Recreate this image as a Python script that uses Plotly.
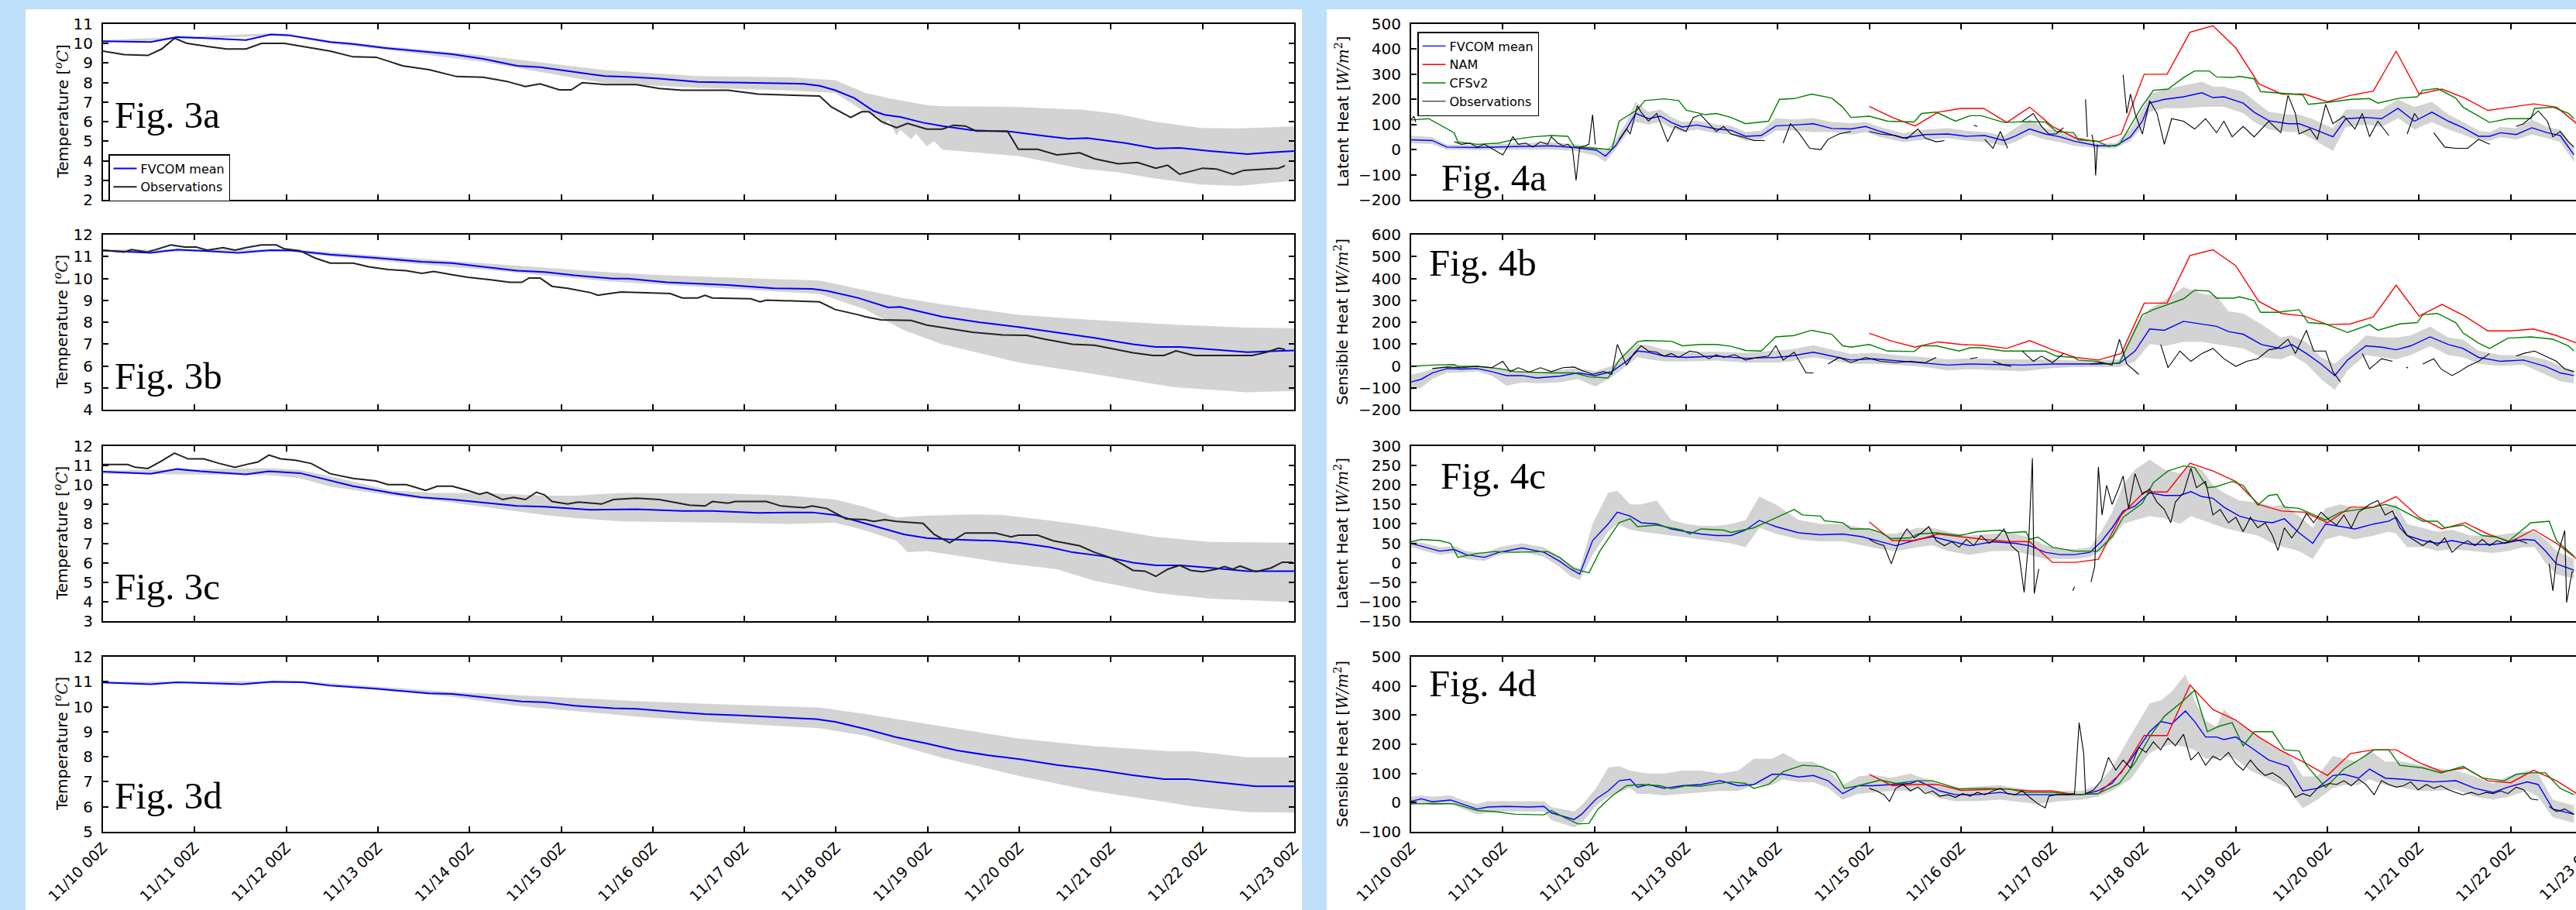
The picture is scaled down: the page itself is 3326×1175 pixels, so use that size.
import plotly.graph_objects as go

# ---------------------------------------------------------------- data
DAY_TICKS = list(range(14))
DAY_LABELS = ["11/10 00Z", "11/11 00Z", "11/12 00Z", "11/13 00Z", "11/14 00Z",
              "11/15 00Z", "11/16 00Z", "11/17 00Z", "11/18 00Z", "11/19 00Z",
              "11/20 00Z", "11/21 00Z", "11/22 00Z", "11/23 00Z"]

# ---- Fig. 3a (temperature)
T3A_MEAN = [0.00,0.52,0.81,1.56,1.83,2.02,2.48,2.73,3.06,3.56,3.81,4.15,4.52,4.77,5.07,5.48,5.73,6.07,6.49,6.90,
            7.32,7.65,7.82,7.99,8.20,8.41,8.53,8.70,8.95,9.16,9.49,9.91,10.24,10.54,10.74,11.16,11.49,11.74,12.08,12.49,12.75,13.00]
V3A_MEAN = [10.12,10.08,10.34,10.18,10.46,10.43,10.08,9.98,9.78,9.55,9.45,9.22,8.86,8.79,8.60,8.33,8.29,8.20,8.04,8.00,
            7.96,7.94,7.84,7.61,7.21,6.55,6.35,6.24,5.95,5.78,5.56,5.49,5.29,5.12,5.16,4.90,4.63,4.66,4.50,4.34,4.43,4.50]
T3A_BAND = [0.00,1.83,2.02,2.48,3.06,4.15,5.48,6.49,7.49,7.99,8.32,8.45,8.53,8.57,8.66,8.70,8.82,8.87,8.99,9.07,
            9.16,9.57,9.99,10.70,11.07,11.47,11.98,12.40,13.00]
UP3A = [10.18,10.52,10.49,10.15,9.88,9.39,8.64,8.33,8.27,8.13,7.47,7.35,7.25,7.20,7.12,7.08,7.00,6.95,6.85,6.82,
        6.79,6.78,6.75,6.61,6.40,6.00,5.68,5.66,5.76]
LO3A = [10.05,10.40,10.37,10.00,9.70,9.06,7.97,7.74,7.60,7.47,6.50,6.30,5.80,6.10,5.30,5.60,5.10,5.40,4.75,5.00,
        4.57,4.40,4.24,3.58,3.42,3.10,2.78,2.71,2.98]
OBS3A_T = [0.00,0.23,0.49,0.64,0.78,0.91,1.14,1.35,1.56,1.73,1.98,2.23,2.48,2.73,2.98,3.27,3.56,3.86,4.15,4.40,
           4.61,4.77,4.98,5.11,5.23,5.48,5.82,6.07,6.32,6.82,7.15,7.82,7.95,8.16,8.28,8.36,8.49,8.66,8.78,8.99,
           9.16,9.28,9.41,9.53,9.87,9.99,10.20,10.41,10.66,10.82,11.08,11.29,11.49,11.62,11.75,12.00,12.15,12.33,12.45,12.83,12.90]
OBS3A_V = [9.61,9.43,9.39,9.72,10.27,10.02,9.85,9.72,9.72,10.01,10.01,9.82,9.61,9.32,9.30,8.86,8.66,8.31,8.27,8.07,
           7.80,7.94,7.63,7.63,8.00,7.90,7.90,7.70,7.61,7.61,7.41,7.31,6.75,6.22,6.51,6.51,6.02,5.69,5.91,5.62,
           5.62,5.82,5.78,5.52,5.52,4.59,4.59,4.30,4.41,4.10,3.84,3.91,3.62,3.77,3.31,3.62,3.58,3.31,3.51,3.62,3.75]

# ---- Fig. 3b
T3B_MEAN = [0.00,0.52,0.81,1.48,1.83,2.06,2.48,2.98,3.48,3.81,4.15,4.52,4.82,5.15,5.57,5.73,6.15,6.49,6.82,7.32,
            7.74,7.90,8.24,8.57,8.70,9.16,9.57,9.99,10.41,10.82,11.24,11.49,11.75,12.09,12.49,12.75,13.00]
V3B_MEAN = [11.27,11.17,11.32,11.17,11.29,11.27,11.09,10.94,10.76,10.70,10.53,10.35,10.29,10.14,9.99,9.99,9.82,9.76,9.70,9.55,
            9.52,9.43,9.11,8.67,8.70,8.25,7.99,7.78,7.52,7.28,6.99,6.87,6.87,6.75,6.63,6.67,6.71]
T3B_BAND = [0.00,2.06,2.48,4.15,5.48,5.98,7.82,8.32,8.74,9.16,9.99,10.82,11.66,12.49,13.00]
UP3B = [11.32,11.33,11.20,10.68,10.29,10.17,9.90,9.46,9.10,8.81,8.34,8.10,7.89,7.75,7.73]
LO3B = [11.22,11.22,11.00,10.41,9.88,9.76,9.29,8.58,7.63,6.99,6.16,5.63,5.04,4.80,4.86]
OBS3B_T = [0.00,0.23,0.31,0.48,0.60,0.74,0.89,1.02,1.14,1.31,1.44,1.56,1.73,1.89,1.98,2.15,2.31,2.48,2.73,2.90,
           3.11,3.31,3.48,3.61,3.81,3.98,4.23,4.44,4.57,4.65,4.77,4.90,5.07,5.32,5.40,5.65,6.19,6.32,6.49,6.57,
           6.65,7.07,7.17,7.24,7.82,7.99,8.24,8.32,8.49,8.82,8.99,9.16,9.49,9.82,10.08,10.28,10.58,10.82,10.99,11.24,
           11.46,11.58,11.71,11.83,11.91,12.54,12.70,12.83,12.90]
OBS3B_V = [11.29,11.20,11.32,11.20,11.35,11.53,11.43,11.43,11.29,11.41,11.29,11.41,11.53,11.53,11.35,11.27,10.94,10.70,10.70,10.53,
           10.41,10.35,10.23,10.32,10.17,10.05,9.94,9.82,9.82,10.02,10.02,9.64,9.55,9.35,9.23,9.38,9.31,9.11,9.11,9.23,
           9.11,9.07,8.93,9.01,8.93,8.58,8.34,8.25,8.11,8.08,7.87,7.75,7.54,7.42,7.40,7.22,6.99,6.95,6.81,6.60,
           6.48,6.48,6.69,6.57,6.48,6.48,6.63,6.81,6.75]

# ---- Fig. 3c
T3C_MEAN = [0.00,0.52,0.81,1.06,1.56,1.81,2.15,2.40,2.73,3.15,3.48,3.81,4.15,4.52,4.82,5.32,5.82,6.32,6.65,7.15,
            7.74,7.99,8.24,8.49,8.74,8.99,9.24,9.74,9.99,10.33,10.58,10.91,11.24,11.49,11.75,12.09,12.49,13.00]
V3C_MEAN = [10.69,10.58,10.82,10.71,10.55,10.71,10.61,10.32,9.94,9.59,9.36,9.25,9.10,8.92,8.88,8.72,8.75,8.66,8.66,8.57,
            8.59,8.46,8.13,7.80,7.46,7.27,7.20,7.13,7.03,6.80,6.54,6.34,6.01,5.87,5.87,5.74,5.57,5.57]
T3C_BAND = [0.00,1.81,2.15,2.48,3.15,3.65,4.15,4.82,5.15,5.65,6.82,7.49,7.99,8.32,8.66,8.78,8.99,9.49,9.82,10.41,
            10.82,11.49,12.09,13.00]
UP3C = [10.75,10.87,10.78,10.45,9.72,9.59,9.59,9.45,9.45,9.59,9.56,9.45,9.25,8.86,8.33,8.38,8.43,8.49,8.46,8.13,
        7.86,7.33,7.07,7.03]
LO3C = [10.58,10.51,10.35,9.92,9.45,9.19,8.88,8.46,8.30,8.13,8.06,8.00,8.06,7.66,7.13,6.54,6.60,6.25,6.00,5.67,
        5.08,4.45,4.15,3.98]
OBS3C_T = [0.00,0.27,0.35,0.49,0.64,0.78,0.93,1.10,1.27,1.44,1.56,1.69,1.81,1.94,2.10,2.27,2.48,2.73,2.98,3.11,
           3.31,3.52,3.65,3.81,3.98,4.11,4.19,4.36,4.48,4.61,4.73,4.82,4.90,5.07,5.19,5.44,5.57,5.82,6.07,6.40,
           6.57,6.65,6.82,6.90,7.24,7.40,7.65,7.74,7.90,8.11,8.32,8.41,8.53,8.66,8.95,9.07,9.24,9.41,9.74,9.91,
           9.99,10.20,10.37,10.49,10.66,10.82,10.99,11.12,11.24,11.37,11.49,11.62,11.75,11.87,12.00,12.15,12.24,12.33,12.41,12.58,
           12.75,12.87,12.98]
OBS3C_V = [11.05,11.05,10.91,10.85,11.24,11.64,11.34,11.34,11.11,10.91,11.05,11.18,11.54,11.34,11.27,11.11,10.58,10.34,10.21,10.02,
           10.02,9.72,9.94,9.94,9.72,9.52,9.63,9.25,9.36,9.25,9.63,9.49,9.15,9.02,9.12,9.02,9.25,9.32,9.25,8.96,
           8.92,9.15,9.06,9.15,9.15,8.92,8.83,8.92,8.79,8.26,8.22,8.13,8.22,8.13,8.03,7.46,7.03,7.53,7.53,7.33,
           7.42,7.42,7.13,7.03,6.87,6.54,6.27,5.94,5.61,5.57,5.30,5.67,5.87,5.61,5.54,5.67,5.81,5.67,5.83,5.54,
           5.74,6.03,6.03]

# ---- Fig. 3d
T3D_MEAN = [0.00,0.52,0.81,1.52,1.85,2.19,2.48,2.98,3.56,3.81,4.15,4.57,4.82,5.15,5.57,5.82,6.24,6.57,6.90,7.32,
            7.78,7.99,8.32,8.66,8.99,9.32,9.66,9.99,10.41,10.82,11.24,11.58,11.83,12.15,12.58,13.00]
V3D_MEAN = [10.97,10.90,10.98,10.90,11.00,10.98,10.85,10.72,10.54,10.51,10.38,10.21,10.18,10.04,9.94,9.92,9.79,9.71,9.66,9.58,
            9.51,9.40,9.11,8.78,8.53,8.25,8.06,7.91,7.67,7.49,7.26,7.11,7.11,6.98,6.82,6.82]
T3D_BAND = [0.00,2.15,3.81,4.57,5.82,6.82,7.82,8.32,9.16,9.99,10.82,11.66,11.91,12.49,13.00]
UP3D = [11.00,11.03,10.59,10.45,10.23,10.09,9.97,9.71,9.22,8.73,8.42,8.22,8.22,7.98,7.98]
LO3D = [10.93,10.95,10.40,10.02,9.61,9.35,9.14,8.84,7.96,7.24,6.62,6.15,6.00,5.79,5.77]

# ---- Fig. 4a (latent heat)
T4A = [0.00,0.23,0.39,0.72,1.13,1.53,1.78,2.02,2.12,2.23,2.35,2.45,2.59,2.72,2.84,2.96,3.12,3.33,3.49,3.65,
       3.82,3.98,4.18,4.39,4.59,4.80,4.96,5.12,5.37,5.61,5.86,6.06,6.26,6.47,6.59,6.75,6.92,7.08,7.24,7.49,
       7.69,7.85,7.98,8.06,8.22,8.43,8.63,8.75,8.87,9.08,9.20,9.36,9.57,9.69,9.85,10.06,10.20,10.42,10.59,10.77,
       10.95,11.14,11.32,11.48,11.65,11.77,11.89,12.06,12.23,12.40,12.54,12.69]
MEAN4A = [39,36,10,8,12,15,8,-2,-26,15,82,144,123,133,108,90,98,82,77,53,
          56,94,98,103,84,82,92,72,46,60,62,53,56,36,53,82,62,51,33,15,
          15,51,113,185,200,210,226,207,210,185,149,115,103,103,82,51,123,128,123,164,
          113,149,113,87,53,53,67,60,87,67,56,-21]
UP4A = [55,50,20,18,25,30,22,10,-5,40,110,190,150,160,130,110,115,100,95,70,
        75,125,120,125,110,105,110,90,65,80,85,75,70,55,85,120,85,70,50,25,
        25,80,160,220,240,255,270,250,250,230,195,150,140,140,120,85,160,160,160,200,
        170,190,140,110,75,70,90,85,120,90,80,10]
LO4A = [25,22,0,-2,0,0,-5,-25,-50,0,60,110,100,110,85,70,80,65,60,35,
        40,75,75,70,70,60,70,50,30,40,45,35,30,15,30,60,40,30,15,5,
        5,35,90,150,165,165,170,170,170,145,110,80,70,70,40,-5,90,100,90,125,
        80,110,80,60,35,35,50,40,60,45,30,-50]
T_NAM = [5.00,5.25,5.50,5.75,6.00,6.25,6.50,6.75,7.00,7.25,7.50,7.75,8.00,8.25,8.50,8.75,
         9.00,9.25,9.50,9.75,10.00,10.25,10.50,10.75,11.00,11.25,11.50,11.75,12.00,12.25,12.50,12.75]
NAM4A = [172,128,94,149,164,164,108,169,92,46,31,62,300,300,467,493,
         405,262,221,221,190,216,233,392,221,241,205,156,169,182,169,95]
TC4A = [0.00,0.19,0.47,0.51,0.72,0.96,1.13,1.33,1.53,1.71,1.78,1.94,2.19,2.27,2.47,2.55,2.76,2.92,3.00,3.21,
        3.33,3.49,3.65,3.90,4.02,4.18,4.37,4.59,4.71,4.80,5.00,5.20,5.49,5.57,5.73,5.94,6.10,6.22,6.47,6.67,
        6.92,7.04,7.23,7.28,7.49,7.61,7.73,7.98,8.10,8.26,8.43,8.55,8.71,8.79,8.97,9.04,9.20,9.27,9.45,9.73,
        9.79,9.98,10.26,10.46,10.55,10.79,10.98,11.04,11.20,11.40,11.48,11.65,11.77,11.97,12.22,12.26,12.46,12.63,12.69]
CFS4A = [118,123,67,31,21,26,41,51,56,53,12,8,0,113,159,195,202,195,157,139,
         144,128,103,113,200,203,221,205,169,128,133,113,110,144,149,113,135,135,108,111,
         110,72,67,39,34,12,21,174,236,241,287,313,313,289,287,292,282,231,226,218,
         180,187,200,203,185,205,210,236,243,205,169,133,108,123,123,164,169,144,123]
OBS4A_T = [0.00,0.03,0.05,None,
           0.47,0.55,0.64,0.72,0.80,0.88,1.00,1.06,1.11,1.17,1.25,1.33,1.41,1.49,1.53,1.60,1.66,1.71,1.76,1.80,1.84,1.90,1.94,1.98,2.01,None,
           2.27,2.35,2.39,2.47,2.51,2.59,2.68,2.80,2.88,3.00,3.08,3.16,3.25,3.33,3.41,3.49,3.61,3.74,3.86,None,
           4.06,4.14,4.23,4.35,4.47,4.55,4.67,4.80,None,
           5.00,5.12,5.29,5.41,5.53,5.61,5.73,5.82,None,
           6.14,6.18,None,
           6.26,6.35,6.43,6.51,None,
           6.67,6.79,6.88,6.96,7.04,7.12,None,
           7.36,7.38,None,
           7.43,7.46,7.47,7.49,None,
           7.77,7.81,7.85,7.90,7.98,8.06,8.14,8.22,8.30,8.43,8.55,8.67,8.79,8.87,8.96,9.08,9.20,9.36,9.49,9.57,
           9.65,9.69,9.81,9.89,9.98,10.06,10.18,10.30,10.38,10.46,10.55,10.67,None,
           10.87,10.95,10.99,None,
           11.16,11.28,11.40,11.53,11.65,11.77,None,
           12.06,12.14,12.22,12.30,12.40,12.46,12.54,12.63,12.69]
OBS4A_V = [120,132,110,None,
           31,21,26,10,21,5,-21,15,51,21,26,10,31,21,51,26,15,21,5,-123,10,15,21,139,21,None,
           40,82,62,174,149,113,144,31,92,72,128,139,103,72,92,62,51,36,36,None,
           26,103,67,5,0,41,62,72,None,
           72,62,56,43,82,46,31,36,None,
           97,92,None,
           41,5,72,5,None,
           113,144,92,62,62,87,None,
           200,50,None,
           60,0,-103,20,None,
           298,144,221,144,62,195,144,21,123,113,82,123,67,113,51,92,51,113,67,216,
           144,62,82,41,180,103,133,82,144,51,113,56,None,
           62,144,123,None,
           67,10,5,5,41,21,None,
           92,103,128,154,113,51,72,31,10]

# ---- Fig. 4b (sensible heat)
T4B = [0.00,0.11,0.23,0.39,0.55,0.72,0.88,1.04,1.21,1.37,1.62,1.82,2.01,2.19,2.35,2.47,2.59,2.76,3.00,3.33,
       3.65,3.98,4.14,4.39,4.59,4.80,5.04,5.29,5.61,5.86,6.10,6.43,6.67,7.00,7.24,7.49,7.73,7.90,8.06,8.22,
       8.43,8.63,8.79,8.92,9.08,9.28,9.49,9.61,9.77,9.93,10.08,10.22,10.42,10.59,10.75,10.91,11.12,11.32,11.48,11.65,
       11.89,12.14,12.38,12.54,12.69]
MEAN4B = [-73,-61,-32,-12,-14,-12,-26,-44,-44,-55,-47,-32,-44,-26,21,68,63,45,39,45,
          35,39,45,63,45,27,33,24,15,4,9,7,4,9,9,9,12,68,169,163,
          204,192,181,157,145,98,80,98,57,9,-44,27,92,86,74,92,133,98,80,39,
          21,27,-2,-32,-44]
UP4B = [-40,-30,-15,0,0,0,-5,-15,-25,-30,-20,-10,-25,0,60,100,95,75,65,65,
        60,70,75,95,75,55,60,50,40,30,35,30,30,30,25,25,30,180,260,300,
        360,330,320,250,240,190,130,140,110,40,10,60,140,130,130,140,180,130,120,70,
        50,50,30,0,-20]
LO4B = [-110,-100,-60,-30,-30,-25,-45,-90,-75,-80,-75,-60,-95,-50,0,40,30,20,20,25,
        15,15,20,40,25,10,10,5,-5,-20,-15,-20,-25,-10,-5,-5,-5,20,100,90,
        110,110,100,90,80,40,30,50,10,-60,-110,-20,50,40,30,50,90,50,40,10,
        0,5,-40,-70,-80]
NAM4B = [149,113,86,110,98,94,80,116,74,39,27,57,287,287,505,531,
         458,295,240,228,189,192,224,369,228,281,228,160,160,169,139,100]
TC4B = [0.00,0.23,0.47,0.51,0.72,0.96,1.13,1.53,1.78,1.94,2.15,2.27,2.47,2.55,2.84,2.96,3.16,3.33,3.49,3.65,
        3.82,3.98,4.18,4.37,4.59,4.71,4.80,5.00,5.20,5.49,5.57,5.73,5.98,6.10,6.22,6.47,6.92,7.04,7.23,7.28,
        7.49,7.61,7.73,7.98,8.10,8.26,8.43,8.55,8.71,8.79,8.97,9.04,9.20,9.27,9.45,9.69,9.79,9.98,10.22,10.46,
        10.55,10.79,10.98,11.04,11.20,11.40,11.48,11.65,11.77,11.97,12.22,12.46,12.63,12.69]
CFS4B = [-2,4,6,-2,-2,-12,-26,-32,-32,-50,-55,27,110,116,113,92,98,98,90,71,
         68,133,139,163,145,92,86,98,68,66,92,92,68,83,83,68,68,45,39,27,
         21,9,15,234,257,281,307,346,342,310,310,316,299,245,245,257,198,192,153,189,
         163,192,198,234,240,198,151,104,80,127,133,122,92,68]
OBS4B_T = [0.23,0.39,0.55,0.72,0.88,1.00,1.08,1.17,1.29,1.41,1.53,1.66,1.78,1.86,1.98,2.10,2.19,2.25,2.35,2.43,
           2.51,2.59,2.68,2.76,2.84,2.92,3.04,3.12,3.25,3.33,3.41,3.53,3.65,3.78,3.90,3.98,4.06,4.18,4.31,4.39,None,
           4.55,4.67,4.80,4.96,5.12,5.29,5.45,5.61,5.73,None,
           6.10,6.18,None,
           6.35,6.47,6.55,None,
           6.67,6.79,6.88,7.00,7.12,None,
           7.41,7.53,7.65,7.73,7.81,7.94,None,
           8.18,8.26,8.39,8.51,8.63,8.75,8.87,9.00,9.12,9.24,9.36,9.45,9.57,9.65,9.77,9.85,9.98,10.06,10.14,None,
           10.38,10.46,10.59,10.71,None,
           10.86,10.88,None,
           11.04,11.16,11.24,11.36,11.44,11.53,11.65,11.77,None,
           12.06,12.14,12.26,12.38,12.50,12.59,12.69]
OBS4B_V = [-12,-5,-8,-2,-8,21,-26,-8,-28,-8,-26,-8,-5,-20,-38,-26,-38,98,4,57,
           92,68,63,45,57,39,68,63,33,51,39,51,27,39,45,92,27,63,-32,-32,None,
           9,39,15,39,21,15,21,15,39,None,
           33,39,None,
           21,4,-2,None,
           68,21,45,15,57,None,
           9,15,4,122,9,-38,None,
           98,-8,68,21,57,80,33,-2,21,33,74,80,122,57,163,68,68,-26,-73,None,
           57,-14,33,21,None,
           -5,-10,None,
           9,33,-14,-44,-26,-2,21,57,None,
           45,57,68,45,21,-14,-26]

# ---- Fig. 4c (latent heat)
T4C = [0.00,0.15,0.31,0.47,0.60,0.80,0.96,1.21,1.45,1.62,1.74,1.84,1.98,2.15,2.25,2.39,2.51,2.68,2.84,3.00,
       3.16,3.33,3.49,3.65,3.80,3.98,4.23,4.47,4.71,4.92,5.12,5.29,5.53,5.69,5.86,6.10,6.35,6.59,6.75,6.92,
       7.08,7.24,7.41,7.53,7.65,7.77,7.90,8.06,8.22,8.39,8.51,8.63,8.75,8.87,9.04,9.24,9.40,9.53,9.69,9.84,
       9.98,10.14,10.30,10.51,10.67,10.75,10.87,11.04,11.20,11.36,11.57,11.81,11.97,12.14,12.26,12.38,12.50,12.69]
MEAN4C = [50,40,30,34,21,14,27,38,27,4,-16,-29,57,100,130,120,103,100,87,80,
          74,70,70,84,109,93,77,72,74,67,54,44,60,67,57,44,54,50,44,27,
          21,21,27,54,90,133,146,180,173,173,183,170,166,143,120,107,103,113,77,50,
          100,93,87,100,107,117,70,57,50,57,47,47,52,60,58,30,-3,-19]
UP4C = [55,50,40,42,30,25,40,50,40,15,-5,-15,100,180,185,150,150,160,110,100,
        95,95,100,110,170,150,110,100,100,90,75,75,90,90,80,70,75,75,65,45,
        35,35,40,80,130,200,240,265,240,230,250,240,200,180,160,155,145,150,120,90,
        140,150,140,140,145,150,100,90,80,85,70,70,75,80,80,60,30,10]
LO4C = [40,30,20,25,10,5,20,28,15,-10,-35,-45,20,80,100,85,80,75,70,65,
        60,55,50,40,90,75,60,55,55,45,35,30,40,45,30,20,30,30,20,10,
        10,10,15,30,60,100,110,120,115,100,120,110,100,90,80,70,50,40,30,10,
        60,70,60,70,80,75,40,40,30,35,30,25,30,40,40,0,-30,-40]
NAM4C = [105,57,57,74,67,60,55,54,1,1,9,123,182,182,256,236,
         209,150,133,130,103,143,143,170,117,87,103,74,54,85,50,5]
TC4C = [0.00,0.11,0.31,0.43,0.51,0.72,0.92,1.13,1.49,1.62,1.78,1.94,2.06,2.27,2.39,2.47,2.68,2.96,3.04,3.16,
        3.41,3.49,3.74,3.90,4.18,4.27,4.47,4.51,4.71,4.80,5.00,5.12,5.24,5.45,5.53,5.73,5.98,6.18,6.43,6.51,
        6.71,6.75,6.84,7.00,7.24,7.49,7.65,7.77,7.98,8.10,8.26,8.43,8.55,8.69,8.79,8.96,9.08,9.24,9.36,9.45,
        9.53,9.69,9.98,10.14,10.34,10.51,10.63,10.75,11.04,11.20,11.28,11.48,11.69,11.85,11.97,12.22,12.42,12.50,12.69]
CFS4C = [54,60,57,50,14,24,29,27,29,14,-16,-26,30,103,113,93,97,84,74,87,
         84,78,90,107,137,123,120,108,103,87,87,78,62,64,74,77,70,80,84,77,
         80,60,66,40,30,30,67,117,153,206,236,249,245,193,196,209,199,148,173,176,
         143,140,110,130,137,143,150,143,107,107,90,97,70,66,54,103,107,57,17]
OBS4C_T = [5.00,5.08,5.16,5.24,5.33,5.41,5.49,5.57,5.65,5.73,5.82,5.90,5.98,6.06,6.14,6.22,6.31,6.39,6.47,6.55,
           6.63,6.69,6.74,6.78,6.80,6.85,None,
           7.22,7.24,None,
           7.42,7.46,7.50,7.54,7.59,7.65,7.72,7.77,7.83,7.90,7.98,8.06,8.14,8.22,8.29,8.34,8.43,8.51,8.57,8.67,
           8.75,8.83,8.92,9.00,9.08,9.16,9.24,9.32,9.40,9.46,9.53,9.61,9.69,9.77,9.85,9.93,10.02,10.10,10.18,10.26,
           10.34,10.46,10.55,10.63,10.71,10.79,10.87,10.95,11.04,11.12,11.20,11.28,11.36,11.44,11.53,11.61,11.69,11.77,11.85,11.93,
           12.06,12.18,None,
           12.42,12.46,12.50,12.59,12.61,12.67,12.69]
OBS4C_V = [60,50,44,-3,57,87,64,77,93,57,44,54,40,60,44,70,50,64,87,44,
           27,-76,57,269,-79,-16,None,
           -72,-62,None,
           -49,-9,246,123,199,150,190,223,140,229,176,190,156,137,103,156,180,243,193,209,
           123,137,103,117,80,117,90,103,70,32,90,64,90,127,103,130,110,97,123,90,
           130,150,160,123,133,90,70,57,44,57,44,64,27,44,57,44,60,44,57,50,
           60,50,None,
           -3,-72,11,83,-102,-23,-23]

# ---- Fig. 4d (sensible heat)
T4D = [0.00,0.11,0.23,0.43,0.55,0.72,0.84,1.04,1.29,1.45,1.53,1.78,1.86,2.02,2.15,2.27,2.39,2.47,2.59,2.76,
       2.96,3.16,3.37,3.57,3.74,3.94,4.06,4.23,4.39,4.55,4.71,4.88,5.04,5.24,5.45,5.53,5.65,5.77,5.94,6.18,
       6.43,6.59,6.84,7.08,7.32,7.49,7.65,7.85,8.06,8.18,8.30,8.45,8.55,8.67,8.79,8.87,9.00,9.16,9.36,9.57,
       9.73,9.89,10.06,10.18,10.34,10.46,10.63,10.83,10.99,11.16,11.40,11.61,11.81,11.97,12.18,12.30,12.46,12.69]
MEAN4D = [4,13,3,9,-4,-22,-15,-13,-15,-13,-35,-58,-40,13,40,75,80,53,62,49,
          58,62,75,58,62,97,97,88,93,75,31,58,58,62,66,75,58,40,27,27,
          35,27,27,27,27,40,66,146,243,278,270,314,278,225,225,216,225,190,146,124,
          40,49,93,97,84,115,84,80,75,71,75,49,35,53,71,62,-22,-40]
UP4D = [20,25,20,25,10,-5,5,5,5,5,-15,-30,-10,50,120,125,110,105,100,100,
        110,110,100,110,150,150,170,140,140,110,60,90,95,85,100,90,80,60,50,55,
        60,50,40,40,40,60,120,230,340,350,380,440,350,280,260,320,280,250,200,170,
        90,90,160,150,140,180,140,140,130,120,110,90,65,90,110,100,10,-10]
LO4D = [-10,0,-10,-5,-20,-40,-35,-30,-30,-30,-60,-85,-70,-10,20,35,50,30,30,25,
        30,35,40,40,60,60,80,70,70,50,10,30,35,40,40,50,30,15,5,5,
        10,5,-5,5,10,20,40,80,170,190,200,190,180,150,150,160,150,110,80,50,
        -20,10,50,60,60,80,60,50,40,40,45,20,10,20,40,20,-50,-70]
NAM4D = [97,58,62,62,42,44,47,40,40,27,31,102,230,230,403,319,
         283,225,177,137,93,168,181,181,137,106,119,75,68,111,75,25]
TC4D = [0.00,0.23,0.47,0.55,0.72,0.92,1.13,1.45,1.53,1.66,1.82,1.94,2.04,2.19,2.35,2.51,2.72,2.84,3.00,3.16,
        3.33,3.49,3.65,3.74,3.90,4.06,4.27,4.47,4.63,4.73,4.88,5.12,5.29,5.53,5.69,5.98,6.26,6.51,6.71,7.00,
        7.24,7.49,7.73,7.90,8.06,8.22,8.43,8.55,8.69,8.81,8.96,9.08,9.20,9.40,9.53,9.69,9.77,9.98,10.18,10.34,
        10.51,10.67,10.79,11.04,11.24,11.48,11.69,11.93,12.06,12.22,12.38,12.54,12.69]
CFS4D = [-4,-3,-4,-12,-27,-31,-40,-42,-27,-49,-73,-71,-22,22,58,62,58,47,58,56,
         65,71,66,49,62,106,128,124,102,49,58,77,66,75,75,47,49,47,35,35,
         27,30,66,137,225,296,350,385,243,261,274,194,243,243,181,177,128,52,115,146,
         181,181,128,119,102,124,84,75,97,102,102,49,27]
OBS4D_T = [5.00,5.08,5.16,5.22,5.29,5.37,5.45,5.53,5.61,5.69,5.77,5.86,5.94,6.02,6.10,6.18,6.26,6.35,6.43,6.51,
           6.59,6.67,6.75,6.84,6.92,6.96,7.04,7.16,7.24,7.29,7.34,7.36,7.45,7.53,7.61,7.69,7.77,7.85,7.94,8.02,
           8.10,8.18,8.26,8.34,8.43,8.51,8.59,8.67,8.75,8.83,8.92,9.00,9.08,9.16,9.24,9.32,9.40,9.49,9.57,9.65,
           9.73,9.81,9.89,10.02,10.10,10.18,10.26,10.34,10.42,10.51,10.59,10.67,10.75,10.83,10.91,10.99,11.08,11.16,11.24,11.32,
           11.40,11.48,11.57,11.65,11.73,11.81,11.89,11.97,12.06,12.14,12.22,12.30,None,
           12.42,12.50,12.59,12.69]
OBS4D_V = [49,40,27,4,49,62,40,53,31,40,22,27,18,31,22,35,27,40,49,31,
           27,40,18,-4,-18,22,27,27,31,274,168,31,44,75,155,111,146,119,190,172,
           208,181,221,195,234,146,172,128,159,146,172,133,111,146,115,93,102,84,58,18,
           31,22,49,66,62,75,58,80,62,27,75,62,53,58,71,44,62,49,58,44,
           35,27,35,27,35,31,40,31,53,44,13,9,None,
           -13,-31,-22,-40]

# ---------------------------------------------------------------- style / layout
W, H = 3326, 1175
BG = "#bfe0fa"
BLUE, RED, GREEN, BLACK, BAND = "#0000ff", "#ff0000", "#008000", "#000000", "#d3d3d3"
SANS = "DejaVu Sans"
SERIF = "Liberation Serif"
MATH = "DejaVu Serif"

LEFT = (133, 1671)
RIGHT = (1822, 3326)
ROWS = [(31, 258), (303, 529), (576, 802), (848, 1074)]
PX_PER_DAY = (LEFT[1] - LEFT[0]) / 13.0
RIGHT_END_DAY = (RIGHT[1] - RIGHT[0]) / PX_PER_DAY


def xdom(a, b):
    return [a / W, b / W]


def ydom(top, bot):
    return [1 - bot / H, 1 - top / H]


fig = go.Figure()


def axref(n):
    return ("x" if n == 1 else "x%d" % n), ("y" if n == 1 else "y%d" % n)


def add_band(n, t, up, lo):
    m = min(len(t), len(up), len(lo))
    t, up, lo = list(t[:m]), list(up[:m]), list(lo[:m])
    xa, ya = axref(n)
    fig.add_trace(go.Scatter(x=t + t[::-1], y=up + lo[::-1], fill="toself", fillcolor=BAND,
                             mode="lines", line=dict(width=0, color=BAND), hoverinfo="skip",
                             showlegend=False, xaxis=xa, yaxis=ya))


def add_line(n, t, v, color, width, name, legend=None):
    m = min(len(t), len(v))
    xa, ya = axref(n)
    fig.add_trace(go.Scatter(x=list(t[:m]), y=list(v[:m]), mode="lines",
                             line=dict(color=color, width=width), name=name,
                             showlegend=legend is not None, legend=legend or "legend",
                             connectgaps=False, xaxis=xa, yaxis=ya))


# left temperature panels
LW = 2.0
OBSC = "#222222"
add_band(1, T3A_BAND, UP3A, LO3A)
add_line(1, T3A_MEAN, V3A_MEAN, BLUE, LW, "FVCOM mean", "legend")
add_line(1, OBS3A_T, OBS3A_V, OBSC, LW, "Observations", "legend")
add_band(2, T3B_BAND, UP3B, LO3B)
add_line(2, T3B_MEAN, V3B_MEAN, BLUE, LW, "FVCOM mean")
add_line(2, OBS3B_T, OBS3B_V, OBSC, LW, "Observations")
add_band(3, T3C_BAND, UP3C, LO3C)
add_line(3, T3C_MEAN, V3C_MEAN, BLUE, LW, "FVCOM mean")
add_line(3, OBS3C_T, OBS3C_V, OBSC, LW, "Observations")
add_band(4, T3D_BAND, UP3D, LO3D)
add_line(4, T3D_MEAN, V3D_MEAN, BLUE, LW, "FVCOM mean")

# right heat flux panels
RW = 1.4
right_sets = [
    (5, T4A, MEAN4A, UP4A, LO4A, NAM4A, TC4A, CFS4A, OBS4A_T, OBS4A_V),
    (6, T4B, MEAN4B, UP4B, LO4B, NAM4B, TC4B, CFS4B, OBS4B_T, OBS4B_V),
    (7, T4C, MEAN4C, UP4C, LO4C, NAM4C, TC4C, CFS4C, OBS4C_T, OBS4C_V),
    (8, T4D, MEAN4D, UP4D, LO4D, NAM4D, TC4D, CFS4D, OBS4D_T, OBS4D_V),
]
for (n, t, mean, up, lo, nam, tc, cfs, ot, ov) in right_sets:
    lg = "legend2" if n == 5 else None
    add_band(n, t, up, lo)
    add_line(n, t, mean, BLUE, RW, "FVCOM mean", lg)
    add_line(n, T_NAM, nam, RED, RW, "NAM", lg)
    add_line(n, tc, cfs, GREEN, RW, "CFSv2", lg)
    add_line(n, ot, ov, BLACK, 1.1, "Observations", lg)

YFONT = dict(family=SANS, size=20, color="black")
XFONT = dict(family=SANS, size=19, color="black")
Y_RANGES = {1: (2, 11, 1), 2: (4, 12, 1), 3: (3, 12, 1), 4: (5, 12, 1),
            5: (-200, 500, 100), 6: (-200, 600, 100), 7: (-150, 300, 50), 8: (-100, 500, 100)}

layout = dict(
    width=W, height=H,
    paper_bgcolor=BG, plot_bgcolor="white",
    margin=dict(l=0, r=0, t=0, b=0, pad=0, autoexpand=False),
    showlegend=True,
    font=dict(family=SANS, size=20, color="black"),
)

for n in range(1, 9):
    left = n <= 4
    row = (n - 1) % 4
    xs = LEFT if left else RIGHT
    top, bot = ROWS[row]
    xkey = "xaxis" if n == 1 else "xaxis%d" % n
    ykey = "yaxis" if n == 1 else "yaxis%d" % n
    xa, ya = axref(n)
    layout[xkey] = dict(
        domain=xdom(*xs), anchor=ya,
        range=[0, 13 if left else RIGHT_END_DAY],
        tickmode="array", tickvals=DAY_TICKS, ticktext=DAY_LABELS,
        tickangle=-45, showticklabels=(row == 3),
        showline=True, linecolor="black", linewidth=2, mirror="ticks",
        ticks="inside", ticklen=7, tickwidth=1.5, tickcolor="black",
        showgrid=False, zeroline=False, tickfont=XFONT, ticklabelstandoff=0,
    )
    lo_, hi_, dt = Y_RANGES[n]
    layout[ykey] = dict(
        domain=ydom(top, bot), anchor=xa,
        range=[lo_, hi_], tickmode="linear", tick0=lo_, dtick=dt,
        showline=True, linecolor="black", linewidth=2,
        mirror=("ticks" if left else False),
        ticks="inside", ticklen=7, tickwidth=1.5, tickcolor="black",
        showgrid=False, zeroline=False, tickfont=YFONT, ticklabelstandoff=7,
    )

layout["legend"] = dict(
    x=140 / W, y=1 - 199 / H, xanchor="left", yanchor="top",
    bgcolor="white", bordercolor="black", borderwidth=1.5,
    font=dict(family=SANS, size=16, color="black"), itemwidth=30, tracegroupgap=0,
)
layout["legend2"] = dict(
    x=1830 / W, y=1 - 41 / H, xanchor="left", yanchor="top",
    bgcolor="white", bordercolor="black", borderwidth=1.5,
    font=dict(family=SANS, size=16, color="black"), itemwidth=30, tracegroupgap=0,
)

# white page panels behind the figures
layout["shapes"] = [
    dict(type="rect", xref="paper", yref="paper", x0=33 / W, x1=1681 / W, y0=0, y1=1 - 12 / H,
         fillcolor="white", line=dict(width=0), layer="below"),
    dict(type="rect", xref="paper", yref="paper", x0=1713 / W, x1=1.0, y0=0, y1=1 - 12 / H,
         fillcolor="white", line=dict(width=0), layer="below"),
]

ann = []
I_STYLE = "font-family:%s;font-size:20px" % MATH
S_STYLE = "font-family:%s;font-size:14px" % MATH
TEMP_TITLE = ('Temperature [<sup style="%s"><i>o</i></sup>'
              '<i style="%s">C</i>]') % (S_STYLE, I_STYLE)
FLUX_UNIT = '[<i style="%s">W/m</i><sup style="%s">2</sup>]' % (I_STYLE, S_STYLE)
titles_right = ["Latent Heat " + FLUX_UNIT, "Sensible Heat " + FLUX_UNIT,
                "Latent Heat " + FLUX_UNIT, "Sensible Heat " + FLUX_UNIT]
for r, (top, bot) in enumerate(ROWS):
    yc = 1 - (top + bot) / 2 / H
    ann.append(dict(text=TEMP_TITLE, x=79 / W, y=yc, xref="paper", yref="paper",
                    textangle=-90, showarrow=False, xanchor="center", yanchor="middle",
                    font=dict(family=SANS, size=20, color="black")))
    ann.append(dict(text=titles_right[r], x=1732 / W, y=yc, xref="paper", yref="paper",
                    textangle=-90, showarrow=False, xanchor="center", yanchor="middle",
                    font=dict(family=SANS, size=20, color="black")))

FIG_LABELS = [("Fig. 3a", 149, 166), ("Fig. 3b", 149, 503), ("Fig. 3c", 149, 775), ("Fig. 3d", 149, 1045),
              ("Fig. 4a", 1862, 247), ("Fig. 4b", 1846, 357), ("Fig. 4c", 1861, 632), ("Fig. 4d", 1846, 900)]
for text, xl, base in FIG_LABELS:
    ann.append(dict(text=text, x=(xl - 3) / W, y=1 - (base + 12) / H, xref="paper", yref="paper",
                    showarrow=False, xanchor="left", yanchor="bottom",
                    font=dict(family=SERIF, size=49, color="black")))

# the last right-hand date label is cut by the page edge (as in the original)
ann.append(dict(text=DAY_LABELS[13], x=(RIGHT[0] + 13 * PX_PER_DAY + 2) / W, y=1 - (ROWS[3][1] + 5) / H,
                xref="paper", yref="paper", showarrow=False, xanchor="right", yanchor="top",
                textangle=-45, font=XFONT))
layout["annotations"] = ann

fig.update_layout(**layout)
fig.write_html("out.html", config={"displayModeBar": False},
               post_script="document.body.style.margin='0';document.body.style.overflow='hidden';")
